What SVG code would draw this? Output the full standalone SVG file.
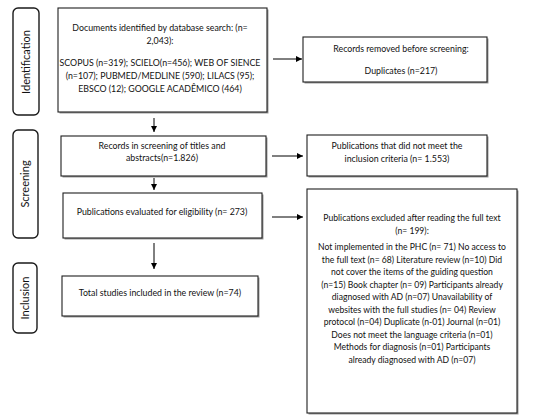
<svg xmlns="http://www.w3.org/2000/svg" width="548" height="418" viewBox="0 0 548 418">
<defs>
<marker id="ah" viewBox="0 0 10 10" refX="10" refY="5" markerWidth="6" markerHeight="6" orient="auto" markerUnits="userSpaceOnUse">
<path d="M0,0 L10,5 L0,10 z" fill="#000"/>
</marker>
<style>
.box{fill:#fff;stroke:#1f1f1f;stroke-width:1.1}
.sh{fill:#9a9a9a}
.lab{fill:#fff;stroke:#1a1a1a;stroke-width:1.4}
.t{font-family:Lato,"Liberation Sans",sans-serif;font-size:8.8px;fill:#111;text-anchor:middle}
.t6{font-family:Lato,"Liberation Sans",sans-serif;font-size:8.6px;fill:#111;text-anchor:middle}
.lt{font-family:Lato,"Liberation Sans",sans-serif;font-size:11px;fill:#111;text-anchor:middle}
.c{stroke:#000;stroke-width:1;fill:none;marker-end:url(#ah)}
</style>
</defs>
<rect width="548" height="418" fill="#fff"/>

<g id="label-identification">
<rect class="lab" x="13" y="8" width="26" height="107" rx="5"/>
<text class="lt" transform="translate(29.5,62) rotate(-90)">Identification</text>
</g>
<g id="label-screening">
<rect class="lab" x="13" y="130" width="25" height="108" rx="5"/>
<text class="lt" transform="translate(29,184) rotate(-90)">Screening</text>
</g>
<g id="label-inclusion">
<rect class="lab" x="13" y="263" width="24" height="70" rx="5"/>
<text class="lt" transform="translate(29,298) rotate(-90)">Inclusion</text>
</g>

<g id="box-identified">
<rect class="sh" x="59.5" y="9.5" width="209" height="104"/>
<rect class="box" x="58" y="8" width="209" height="104"/>
<text class="t" x="160" y="31">Documents identified by database search: (n=</text>
<text class="t" x="160" y="44">2,043):</text>
<text class="t" x="160" y="66">SCOPUS (n=319); SCIELO(n=456); WEB OF SIENCE</text>
<text class="t" x="160" y="78.5">(n=107); PUBMED/MEDLINE (590); LILACS (95);</text>
<text class="t" x="160" y="92">EBSCO (12); GOOGLE ACADÊMICO (464)</text>
</g>

<g id="box-removed">
<rect class="sh" x="304.5" y="38.5" width="184" height="45"/>
<rect class="box" x="303" y="37" width="184" height="45"/>
<text class="t" x="401" y="52">Records removed before screening:</text>
<text class="t" x="401" y="74">Duplicates (n=217)</text>
</g>

<g id="box-screening">
<rect class="sh" x="62.5" y="137.5" width="205" height="40"/>
<rect class="box" x="61" y="136" width="205" height="40"/>
<text class="t" x="162" y="149">Records in screening of titles and</text>
<text class="t" x="162" y="161">abstracts(n=1.826)</text>
</g>

<g id="box-not-meet">
<rect class="sh" x="308.5" y="136.5" width="180" height="41"/>
<rect class="box" x="307" y="135" width="180" height="41"/>
<text class="t" x="397" y="149">Publications that did not meet the</text>
<text class="t" x="397" y="162">inclusion criteria (n= 1.553)</text>
</g>

<g id="box-eligibility">
<rect class="sh" x="64.5" y="194.5" width="199" height="45"/>
<rect class="box" x="63" y="193" width="199" height="45"/>
<text class="t" x="162" y="215">Publications evaluated for eligibility (n= 273)</text>
</g>

<g id="box-excluded">
<rect class="sh" x="308.5" y="190.5" width="210" height="224"/>
<rect class="box" x="307" y="189" width="210" height="224"/>
<text class="t6" x="412" y="221">Publications excluded after reading the full text</text>
<text class="t6" x="412" y="234">(n= 199):</text>
<text class="t6" x="412" y="250">Not implemented in the PHC (n= 71) No access to</text>
<text class="t6" x="412" y="262.5">the full text (n= 68) Literature review (n=10) Did</text>
<text class="t6" x="412" y="275">not cover the items of the guiding question</text>
<text class="t6" x="412" y="287.5">(n=15) Book chapter (n= 09) Participants already</text>
<text class="t6" x="412" y="300">diagnosed with AD (n=07) Unavailability of</text>
<text class="t6" x="412" y="312.5">websites with the full studies (n= 04) Review</text>
<text class="t6" x="412" y="325">protocol (n=04) Duplicate (n-01) Journal (n=01)</text>
<text class="t6" x="412" y="337.5">Does not meet the language criteria (n=01)</text>
<text class="t6" x="412" y="350">Methods for diagnosis (n=01) Participants</text>
<text class="t6" x="412" y="362.5">already diagnosed with AD (n=07)</text>
</g>

<g id="box-included">
<rect class="sh" x="63.5" y="277.5" width="196" height="40"/>
<rect class="box" x="62" y="276" width="196" height="40"/>
<text class="t" x="160" y="296">Total studies included in the review (n=74)</text>
</g>

<g id="connectors">
<line class="c" x1="273" y1="59" x2="302" y2="59"/>
<line class="c" x1="154" y1="118" x2="154" y2="132"/>
<line class="c" x1="154" y1="178" x2="154" y2="190"/>
<line class="c" x1="154" y1="243" x2="154" y2="269"/>
<line class="c" x1="272" y1="156" x2="303" y2="156"/>
<line class="c" x1="272" y1="217" x2="303" y2="217"/>
</g>
</svg>
